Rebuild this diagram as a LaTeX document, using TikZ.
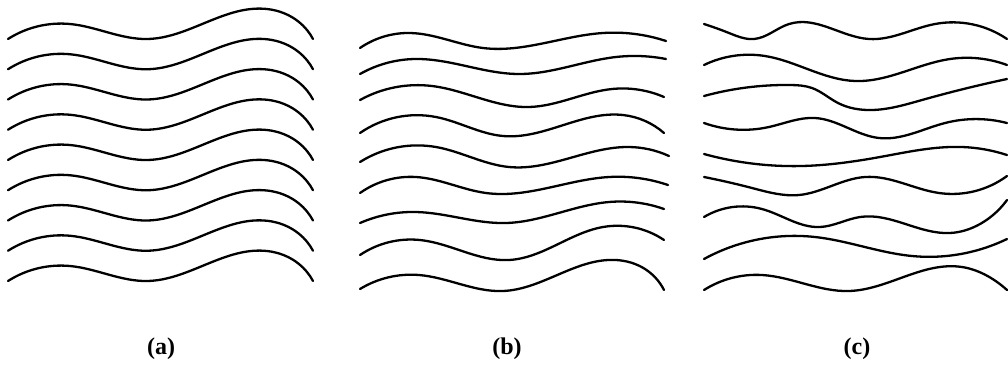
\documentclass[tikz,border=0pt]{standalone}
\usepackage{fontspec}
\setmainfont{Liberation Serif}
\usetikzlibrary{hobby}
\begin{document}
\begin{tikzpicture}[x=1pt,y=-1pt,
  wave/.style={line width=2.3pt,line cap=round,line join=round,use Hobby shortcut},
  panellabel/.style={font=\fontsize{24}{28}\selectfont\bfseries,inner sep=0pt}]
\useasboundingbox (0,0) rectangle (1008,365);
% (a) identical waves
\foreach \k in {0,...,8}{
  \draw[wave,yshift=-\k*30.25pt] (8,39) .. (70,24) .. (147,39) .. (267,9) .. (299,22) .. (313,39);
}
% (b)
\draw[wave] (360,48) .. (410,33) .. (483,48) .. (603,33) .. (666,41);
\draw[wave] (360,74) .. (415,59) .. (519,74) .. (616,57) .. (666,59);
\draw[wave] (360,100) .. (432,86) .. (529,107) .. (612,89) .. (664,97);
\draw[wave] (360,133) .. (436,117) .. (503,136) .. (623,115) .. (664,133);
\draw[wave] (360,162) .. (436,147) .. (509,167) .. (629,147) .. (669,156);
\draw[wave] (360,193) .. (416,177) .. (486,193) .. (609,177) .. (668,185);
\draw[wave] (360,223) .. (416,212) .. (506,223) .. (609,202) .. (664,209);
\draw[wave] (360,255) .. (420,240) .. (509,260) .. (603,227) .. (664,240);
\draw[wave] (360,289) .. (419,275) .. (503,291) .. (616,260) .. (645,269) .. (664,290);
% (c)
\draw[wave] (704,24) .. (729,33) .. (754,39) .. (789,24) .. (869,39) .. (935,24) .. (1007,39);
\draw[wave] (704,65) .. (765,56) .. (855,81) .. (950,59) .. (1007,65);
\draw[wave] (704,96) .. (790,85) .. (812,88) .. (838,103) .. (872,110) .. (922,100) .. (1007,79);
\draw[wave] (704,123) .. (769,127) .. (815,118) .. (879,138) .. (945,123) .. (1007,123);
\draw[wave] (704,154) .. (802,166) .. (880,157) .. (962,147) .. (1007,155);
\draw[wave] (704,177) .. (752,188) .. (799,195) .. (865,177) .. (939,193) .. (1007,176);
\draw[wave] (704,217) .. (762,209) .. (820,227) .. (860,217) .. (950,233) .. (985,221) .. (1007,200);
\draw[wave] (704,259) .. (815,237) .. (912,256) .. (1007,239);
\draw[wave] (704,290) .. (762,275) .. (849,291) .. (962,267) .. (991,278) .. (1007,290);
% labels
\node[panellabel] (la) at (161,349) {(a)};
\node[panellabel] (lb) at (507,349) {(b)};
\node[panellabel] (lc) at (857,349) {(c)};
\end{tikzpicture}
\end{document}
